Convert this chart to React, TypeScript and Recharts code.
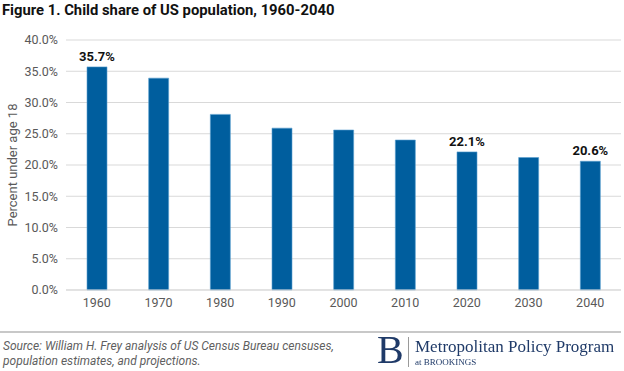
import { Bar, BarChart, CartesianGrid, LabelList, XAxis, YAxis } from 'recharts';

const years = ['1960', '1970', '1980', '1990', '2000', '2010', '2020', '2030', '2040'];
const childShare = [35.7, 33.9, 28.1, 25.9, 25.6, 24.0, 22.1, 21.2, 20.6];
const labelledYears = ['1960', '2020', '2040'];
const yTicks = [0, 5, 10, 15, 20, 25, 30, 35, 40];

const data = years.map((year, i) => ({
  year,
  share: childShare[i],
  label: labelledYears.includes(year) ? `${childShare[i].toFixed(1)}%` : '',
}));

const grey = '#595959';
const navy = '#1f3a68';

export default function App() {
  return (
    <div
      style={{
        position: 'fixed',
        left: 0,
        top: 0,
        width: 624,
        height: 371,
        background: '#fff',
        fontFamily: 'Roboto, sans-serif',
      }}
    >
      <div
        style={{
          position: 'absolute',
          left: 2,
          top: 1,
          fontSize: 14.8,
          fontWeight: 700,
          color: '#111',
          whiteSpace: 'nowrap',
        }}
      >
        Figure 1. Child share of US population, 1960-2040
      </div>

      <div style={{ position: 'absolute', left: 0, top: 0 }}>
        <BarChart
          width={624}
          height={310}
          data={data}
          margin={{ top: 40, right: 3, bottom: 0, left: 8 }}
          barSize={20}
        >
          <CartesianGrid vertical={false} stroke="#d9d9d9" />
          <XAxis
            dataKey="year"
            height={20}
            axisLine={{ stroke: '#d9d9d9' }}
            tickLine={false}
            tick={{ fill: grey, fontSize: 12.5 }}
            tickMargin={2}
          />
          <YAxis
            width={58}
            domain={[0, 40]}
            ticks={yTicks}
            interval={0}
            axisLine={false}
            tickLine={false}
            tick={{ fill: grey, fontSize: 12.5 }}
            tickFormatter={(v: number) => `${v.toFixed(1)}%`}
            label={{
              value: 'Percent under age 18',
              angle: -90,
              position: 'insideLeft',
              offset: 4,
              style: { textAnchor: 'middle', fill: grey, fontSize: 13 },
            }}
          />
          <Bar dataKey="share" fill="#005e9e" stroke="#5a9fd0" strokeWidth={0.6} isAnimationActive={false}>
            <LabelList
              dataKey="label"
              position="top"
              offset={6}
              style={{ fill: '#111', fontSize: 13, fontWeight: 700 }}
            />
          </Bar>
        </BarChart>
      </div>

      <div
        style={{
          position: 'absolute',
          left: 0,
          top: 331,
          width: 621,
          height: 2,
          background: '#c8c8c8',
        }}
      />

      <div
        style={{
          position: 'absolute',
          left: 3,
          top: 339,
          fontSize: 12,
          fontStyle: 'italic',
          color: '#5f5f5f',
          lineHeight: '15px',
        }}
      >
        Source: William H. Frey analysis of US Census Bureau censuses,
        <br />
        population estimates, and projections.
      </div>

      <div
        style={{
          position: 'absolute',
          left: 377,
          top: 330,
          fontFamily: '"Liberation Serif", serif',
          fontSize: 40,
          color: navy,
          lineHeight: '40px',
        }}
      >
        B
      </div>
      <div
        style={{
          position: 'absolute',
          left: 408,
          top: 337,
          width: 1,
          height: 30,
          background: '#9a9a9a',
        }}
      />
      <div
        style={{
          position: 'absolute',
          left: 415,
          top: 337,
          fontFamily: '"Liberation Serif", serif',
          fontSize: 17,
          color: navy,
          whiteSpace: 'nowrap',
          lineHeight: '20px',
        }}
      >
        Metropolitan Policy Program
      </div>
      <div
        style={{
          position: 'absolute',
          left: 415,
          top: 357,
          fontFamily: '"Liberation Serif", serif',
          fontSize: 9,
          color: navy,
          whiteSpace: 'nowrap',
          lineHeight: '10px',
        }}
      >
        at BROOKINGS
      </div>
    </div>
  );
}
